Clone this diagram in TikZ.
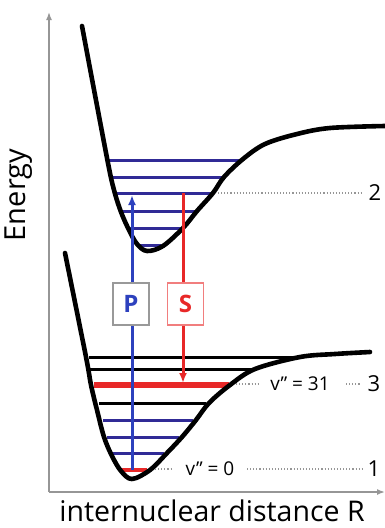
\documentclass[tikz,border=0pt]{standalone}
\usepackage{fontspec}
\setmainfont{Open Sans}
\usetikzlibrary{arrows.meta}
\definecolor{lvlblue}{RGB}{48,42,150}
\definecolor{pblue}{RGB}{45,65,190}
\definecolor{sred}{RGB}{232,40,40}
\definecolor{axgray}{RGB}{150,150,150}
\begin{document}
\begin{tikzpicture}[
    x=1pt, y=-1pt,
    axis/.style={draw=axgray, line width=1.5pt, -{Latex[length=8pt,width=6pt]}},
    pot/.style={draw=black, line width=4.6pt, line join=round, line cap=round},
    lvl/.style={line width=3pt},
    guide/.style={draw=axgray, line width=1.1pt, dotted},
    lbl/.style={font=\fontsize{19}{21}\selectfont, inner sep=1pt},
    laser/.style={line width=3pt},
    lasbox/.style={fill=white, line width=1.4pt, minimum width=36pt,
      minimum height=42pt, inner sep=0pt, font=\fontsize{24}{26}\selectfont\bfseries},
  ]
  \useasboundingbox (0,0) rectangle (385,528);
  % axes
  \coordinate (origin) at (49,492);
  \coordinate (ytip) at (49,12);
  \coordinate (xtip) at (385,492);
  \draw[axis] (origin) -- (ytip);
  \draw[axis] (origin) -- (xtip);
  \node[rotate=90, font=\fontsize{29}{31}\selectfont] (elabel) at (19,195) {Energy};
  \node[font=\fontsize{28.5}{31}\selectfont] (rlabel) at (212,511) {internuclear distance R};

  % vibrational levels, upper state
  \foreach \y/\xa/\xb in {160/108/242, 177/112/223, 193/116/211, 211/122/195,
      228/129/182, 245/140/161}
    \draw[lvl, lvlblue] (\xa,\y) -- (\xb,\y);
  % vibrational levels, lower state
  \foreach \y/\xa/\xb/\c in {357/89/297/black, 369/90/253/black, 403/99/206/black,
      420/103/193/lvlblue, 437/107/179/lvlblue, 453/112/164/lvlblue}
    \draw[lvl, \c] (\xa,\y) -- (\xb,\y);
  \draw[line width=6pt, sred] (94,385) -- (229,385);
  \draw[line width=4pt, sred] (119,470) -- (147,470);

  % potential curves
  \draw[pot] plot[smooth, tension=0.55] coordinates {
    (82,26) (107,158) (114,190) (121,212) (129,230) (137,244) (147,251)
    (163,246) (183,228) (197,211) (213,193) (224,177) (243,159) (265,144)
    (297,134) (330,128) (385,126)};
  \draw[pot] plot[smooth, tension=0.55] coordinates {
    (65,253) (86,357) (91,385) (97,410) (104,437) (112,456) (121,471) (132,479)
    (150,470) (167,453) (182,437) (196,420) (209,403) (230,385) (255,369)
    (300,357) (335,354) (370,352)};

  % pump and Stokes transitions
  \coordinate (pbot) at (132,470);
  \coordinate (ptop) at (132,195);
  \coordinate (stop) at (183,193);
  \coordinate (sbot) at (183,383);
  \draw[laser, pblue, -{Latex[length=10pt,width=8pt]}] (pbot) -- (ptop);
  \draw[laser, sred, -{Latex[length=10pt,width=8pt]}] (stop) -- (sbot);
  \node[lasbox, draw=gray!80, text=pblue] (pump) at (131,304) {P};
  \node[lasbox, draw=sred!60, text=sred] (stokes) at (185.5,304) {S};

  % level labels
  \draw[guide] (218,193) -- (362,193);
  \node[lbl, font=\fontsize{22}{24}\selectfont] (two) at (375,193) {2};
  \draw[guide] (236,384) -- (258,384);
  \node[lbl] (v31) at (300,384) {v'' = 31};
  \draw[guide] (346,384) -- (360,384);
  \node[lbl, font=\fontsize{22}{24}\selectfont] (three) at (374,384) {3};
  \draw[guide] (155,469) -- (172,469);
  \node[lbl] (v0) at (210,469) {v'' = 0};
  \draw[guide] (247,469) -- (362,469);
  \node[lbl, font=\fontsize{22}{24}\selectfont] (one) at (374,469) {1};
\end{tikzpicture}
\end{document}
